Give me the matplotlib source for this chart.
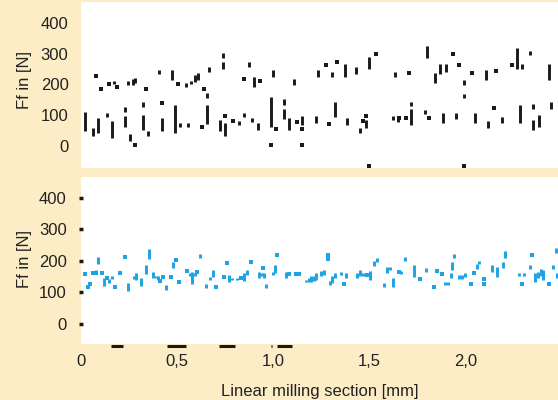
import matplotlib
matplotlib.use("Agg")
import matplotlib.pyplot as plt
from matplotlib.ticker import FuncFormatter

plt.rcParams['font.family'] = ['Liberation Sans', 'DejaVu Sans']

# ---------------- upper panel: force ranges (black) ----------------
top_rng_x = [0.019, 0.061, 0.090, 0.133, 0.159, 0.171, 0.228, 0.228, 0.242, 0.254,
             0.271, 0.283, 0.323, 0.323, 0.351, 0.406, 0.420, 0.475, 0.491, 0.517,
             0.544, 0.558, 0.572, 0.594, 0.608, 0.654, 0.654, 0.668, 0.737, 0.737,
             0.724, 0.751, 0.820, 0.848, 0.876, 0.890, 0.902, 0.919, 0.988, 1.000,
             1.057, 1.057, 1.083, 1.109, 1.152, 1.221, 1.235, 1.304, 1.320, 1.373,
             1.385, 1.430, 1.454, 1.483, 1.497, 1.622, 1.636, 1.649, 1.719, 1.719,
             1.788, 1.802, 1.843, 1.869, 1.882, 1.898, 1.952, 1.995, 1.995, 2.050,
             2.105, 2.119, 2.188, 2.271, 2.283, 2.297, 2.338, 2.352, 2.352, 2.382,
             2.435, 2.447]
top_rng_lo = [48, 32, 40, 92, 24, 201, 111, 60, 198, 16,
              198, 205, 127, 51, 33, 234, 49, 214, 42, 60,
              190, 60, 201, 208, 215, 154, 70, 241, 287, 249,
              49, 32, 67, 94, 257, 78, 192, 51, 60, 225,
              133, 86, 51, 198, 67, 75, 225, 225, 94, 225,
              67, 234, 40, 57, 249, 84, 225, 78, 129, 67,
              103, 285, 205, 234, 75, 241, 86, 198, 154, 75,
              214, 57, 75, 249, 75, 249, 295, 119, 51, 60,
              214, 119]
top_rng_hi = [110, 58, 91, 105, 80, 212, 125, 97, 212, 38,
              219, 221, 143, 99, 48, 247, 91, 247, 133, 73,
              203, 73, 212, 230, 236, 171, 133, 257, 301, 274,
              84, 73, 81, 107, 274, 91, 223, 73, 160, 247,
              151, 119, 89, 219, 97, 97, 247, 241, 143, 265,
              91, 255, 57, 84, 290, 97, 241, 91, 143, 119,
              116, 325, 238, 265, 106, 265, 106, 214, 168, 107,
              247, 81, 92, 317, 133, 266, 309, 135, 84, 100,
              266, 143]
# single readings in the upper panel
top_pt_x = [0.076, 0.104, 0.145, 0.185, 0.283, 0.338, 0.420, 0.504, 0.628, 0.641,
            0.751, 0.793, 0.850, 0.933, 0.988, 1.014, 1.126, 1.152, 1.152, 1.276,
            1.290, 1.333, 1.466, 1.483, 1.497, 1.537, 1.653, 1.691, 1.705, 1.813,
            1.938, 1.967, 1.995, 2.036, 2.147, 2.159, 2.244]
top_pt_f = [228, 184, 201, 192, 1, 184, 140, 201, 62, 184,
            97, 81, 219, 211, 1, 53, 78, 53, 1, 263,
            71, 272, 80, 98, -68, 299, 89, 89, 238, 89,
            299, 263, -68, 238, 124, 244, 263]

# ---------------- lower panel: force ranges (blue) ----------------
bot_rng_x = [0.090, 0.076, 0.119, 0.147, 0.161, 0.245, 0.275, 0.288, 0.314, 0.340,
             0.354, 0.373, 0.388, 0.399, 0.440, 0.478, 0.565, 0.580, 0.591, 0.617,
             0.648, 0.672, 0.686, 0.772, 0.788, 0.813, 0.846, 0.862, 0.924, 0.940,
             0.950, 0.965, 0.997, 1.007, 1.066, 1.172, 1.185, 1.198, 1.211, 1.224,
             1.250, 1.265, 1.294, 1.305, 1.322, 1.351, 1.380, 1.437, 1.452, 1.465,
             1.506, 1.525, 1.538, 1.575, 1.592, 1.608, 1.622, 1.667, 1.684, 1.731,
             1.794, 1.895, 1.912, 1.925, 1.933, 1.943, 1.967, 1.982, 1.998, 2.060,
             2.073, 2.141, 2.167, 2.197, 2.205, 2.280, 2.306, 2.335, 2.361, 2.378,
             2.392, 2.405, 2.458, 2.473, 2.478]
bot_rng_lo = [189, 157, 120, 128, 142, 105, 141, 139, 120, 157,
              207, 144, 144, 139, 107, 176, 152, 126, 150, 208,
              112, 138, 149, 133, 139, 139, 135, 155, 145, 150,
              145, 112, 155, 160, 145, 133, 133, 133, 135, 140,
              150, 155, 122, 130, 145, 155, 144, 145, 150, 150,
              139, 183, 195, 115, 160, 170, 118, 157, 199, 149,
              165, 123, 123, 145, 170, 208, 142, 142, 148, 175,
              190, 165, 149, 176, 208, 150, 150, 175, 133, 145,
              150, 140, 175, 225, 145]
bot_rng_hi = [213, 170, 146, 141, 152, 128, 152, 160, 144, 186,
              239, 165, 152, 150, 123, 197, 160, 165, 160, 220,
              126, 149, 170, 154, 146, 146, 160, 170, 165, 160,
              160, 125, 165, 188, 163, 140, 145, 150, 152, 160,
              168, 170, 135, 150, 160, 165, 160, 162, 170, 160,
              168, 198, 210, 128, 180, 180, 146, 167, 213, 186,
              178, 133, 133, 160, 195, 220, 155, 155, 160, 190,
              200, 186, 181, 195, 231, 160, 160, 188, 160, 165,
              175, 170, 188, 240, 160]
# single readings in the lower panel
bot_pt_x = [0.019, 0.036, 0.047, 0.062, 0.078, 0.107, 0.133, 0.175, 0.202, 0.231,
            0.413, 0.427, 0.466, 0.496, 0.508, 0.551, 0.603, 0.703, 0.743, 0.758,
            0.833, 0.884, 0.945, 1.022, 1.083, 1.119, 1.135, 1.287, 1.287, 1.368,
            1.489, 1.653, 1.765, 1.838, 1.851, 1.877, 2.029, 2.047, 2.098, 2.098,
            2.295, 2.349, 2.434]
bot_pt_f = [158, 118, 125, 160, 160, 160, 146, 117, 160, 211,
            135, 149, 149, 202, 133, 167, 165, 117, 149, 194,
            144, 195, 177, 218, 157, 158, 158, 218, 207, 125,
            154, 165, 142, 117, 168, 157, 125, 160, 142, 125,
            125, 218, 125]
# sections flagged along the lower edge
edge_start = [0.019, 0.154, 0.447, 0.720, 0.989, 1.022]
edge_end = [0.023, 0.216, 0.544, 0.803, 0.993, 1.097]

y_ticks = [0, 100, 200, 300, 400]
x_ticks = [0, 0.5, 1.0, 1.5, 2.0]

BG = '#fdedc6'
INK = '#1a1a1a'
BLUE = '#1ca3e3'
TXT = '#222222'

fig = plt.figure(figsize=(5.58, 4.0), dpi=100, facecolor=BG)
ax1 = fig.add_axes([0.1452, 0.580, 0.8548, 0.416])
ax2 = fig.add_axes([0.1452, 0.140, 0.8548, 0.417])

LW = 2.1
MS = 5.0

ax1.vlines(top_rng_x, top_rng_lo, top_rng_hi, color=INK, lw=LW)
ax1.scatter(top_pt_x, top_pt_f, s=MS, marker='s', color=INK, linewidths=0)

ax2.vlines(bot_rng_x, bot_rng_lo, bot_rng_hi, color=BLUE, lw=LW)
ax2.scatter(bot_pt_x, bot_pt_f, s=MS, marker='s', color=BLUE, linewidths=0)
ax2.hlines([-70] * len(edge_start), edge_start, edge_end, color=INK, lw=2.2,
           clip_on=False)

fmt = FuncFormatter(lambda v, p: f"{v:.1f}".replace('.', ',') if v else "0")

for ax, ylim in ((ax1, (-73, 470)), (ax2, (-65, 466))):
    ax.set_facecolor('white')
    ax.set_xlim(0.010, 2.482)
    ax.set_ylim(*ylim)
    for s in ax.spines.values():
        s.set_visible(False)
    ax.set_yticks(y_ticks)
    ax.tick_params(axis='y', labelsize=12, labelcolor=TXT, length=0, pad=9)
    ax.set_ylabel('Ff in [N]', fontsize=12, color=TXT)
    ax.set_xticks(x_ticks)

ax1.yaxis.set_label_coords(-0.103, 0.53)
ax2.yaxis.set_label_coords(-0.103, 0.51)
ax2.tick_params(axis='y', length=2.5, width=2.5, direction='inout', color=INK)

ax1.tick_params(axis='x', length=0, labelbottom=False)
ax2.xaxis.set_major_formatter(fmt)
ax2.tick_params(axis='x', length=0, labelsize=12, labelcolor=TXT, pad=7)
ax2.set_xlabel('Linear milling section [mm]', fontsize=12, color=TXT, labelpad=11)

fig.savefig('out.png', dpi=100, facecolor=BG)
